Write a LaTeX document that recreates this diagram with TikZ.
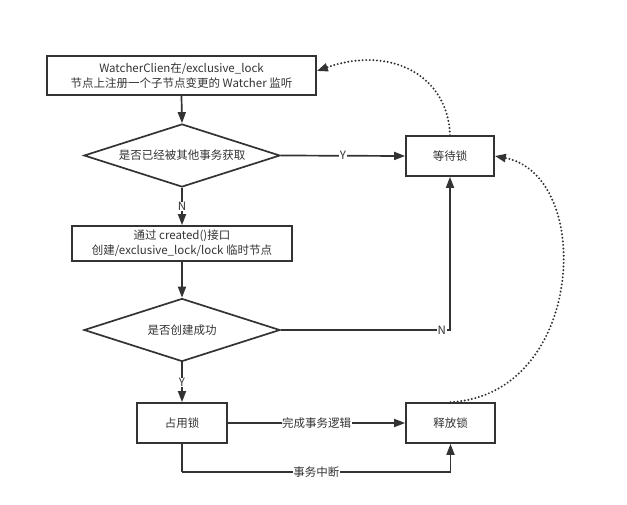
\documentclass[tikz,border=0pt]{standalone}
\usepackage{fontspec}
\setmainfont{Noto Sans CJK SC}
\usetikzlibrary{shapes.geometric,arrows.meta}
\definecolor{ink}{HTML}{333333}
\begin{document}
\begin{tikzpicture}[x=1pt,y=-1pt,
  every node/.style={font=\fontsize{11.5pt}{15pt}\selectfont, text=ink},
  box/.style={draw=ink, line width=1.7pt, rectangle, inner sep=0pt, align=center},
  choice/.style={draw=ink, line width=1.7pt, diamond, aspect=3.1, inner sep=0pt, minimum width=196pt, minimum height=63pt},
  flow/.style={draw=ink, line width=1.7pt, -{Triangle[length=11pt,width=8pt]}},
  plain/.style={draw=ink, line width=1.7pt},
  dots/.style={draw=ink, line width=2.2pt, line cap=round, dash pattern=on 0pt off 3.6pt, -{Triangle[length=11pt,width=8pt]}},
  lbl/.style={fill=white, inner sep=0.5pt}]
\useasboundingbox (0,0) rectangle (627,505);
\node[box, minimum width=269pt, minimum height=39pt] (top) at (181.5,75.5) {WatcherClien在/exclusive\_lock\\节点上注册一个子节点变更的 Watcher 监听};
\node[choice] (d1) at (182,155.5) {是否已经被其他事务获取};
\node[box, minimum width=88pt, minimum height=40pt] (wait) at (450,156) {等待锁};
\node[box, minimum width=220pt, minimum height=35pt] (create) at (182,243.5) {通过 created()接口\\创建/exclusive\_lock/lock 临时节点};
\node[choice] (d2) at (182,330) {是否创建成功};
\node[box, minimum width=90pt, minimum height=40pt] (hold) at (182,423) {占用锁};
\node[box, minimum width=89pt, minimum height=40pt] (release) at (450.5,423) {释放锁};
\coordinate (b1) at (182,472);
\coordinate (b2) at (450.5,472);

\draw[flow] (top.south) -- (d1.north);
\draw[flow] (d1.east) -- node[lbl] {Y} (wait.west);
\draw[flow] (d1.south) -- node[lbl] {N} (create.north);
\draw[flow] (create.south) -- (d2.north);
\draw[flow] (d2.east) -| node[lbl, pos=0.476] {N} (wait.south);
\draw[flow] (d2.south) -- node[lbl] {Y} (hold.north);
\draw[flow] (hold.east) -- node[lbl] {完成事务逻辑} (release.west);
\draw[plain] (hold.south) -- (b1);
\draw[plain] (b1) -- node[lbl] {事务中断} (b2);
\draw[flow] (b2) -- (release.south);
\draw[dots] (wait.north) .. controls (448,75) and (390,45) .. (top.east |- 0,71);
\draw[dots] (release.north) .. controls (585,395) and (595,175) .. (wait.east);
\end{tikzpicture}
\end{document}
